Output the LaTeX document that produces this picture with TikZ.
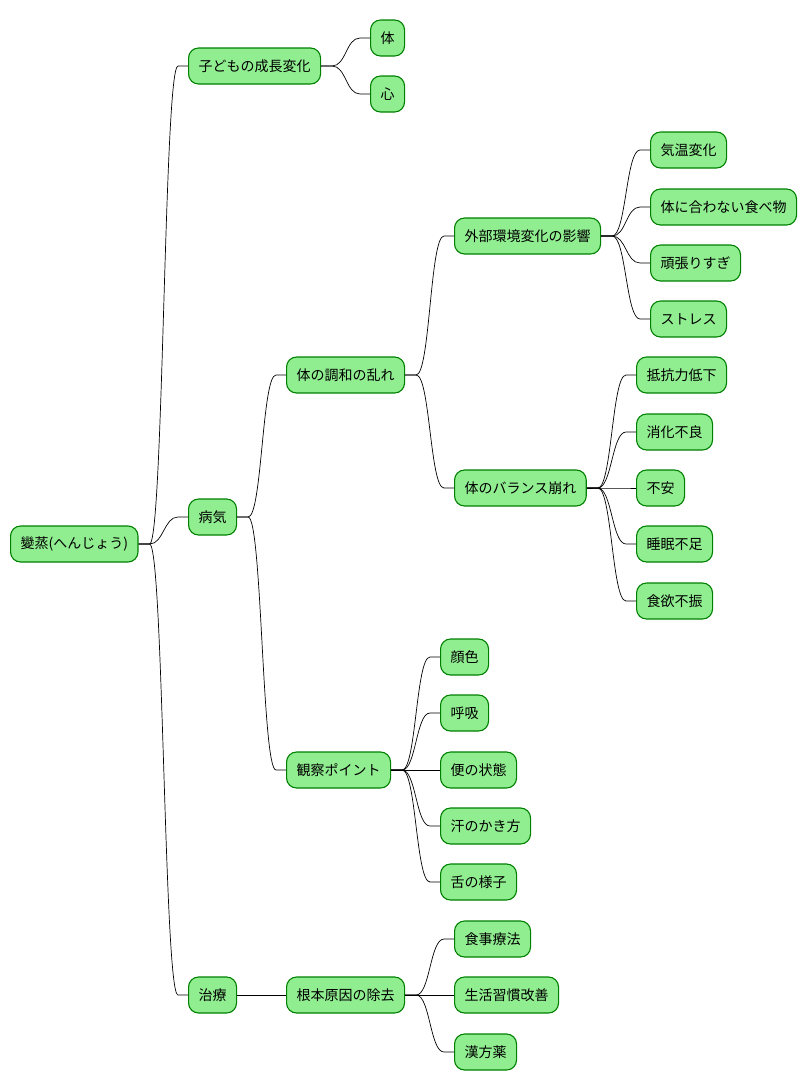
\documentclass[tikz,border=0pt]{standalone}
\usepackage{fontspec}
\setmainfont{Noto Sans CJK JP}
\usetikzlibrary{calc}
\definecolor{leafgreen}{RGB}{144,238,144}
\definecolor{edgegreen}{RGB}{0,128,0}
\tikzset{
  topic/.style={draw=edgegreen, fill=leafgreen, line width=1.1pt, rounded corners=10pt,
    minimum height=36pt, inner xsep=10pt, inner ysep=0pt, anchor=west,
    font=\fontsize{14}{16}\selectfont},
  link/.style={line width=0.7pt, black}
}
\newcommand{\branch}[2]{\draw[link] (#1.east) -- ++(11,0)
  .. controls +(14,0) and +(-14,0) .. ($(#2.west)+(-10,0)$) -- (#2.west);}

\begin{document}
\begin{tikzpicture}[x=1pt, y=-1pt]
    \useasboundingbox (0,0) rectangle (807,1090);
    % root
    \node[topic] (root) at (10,544) {變蒸(へんじょう)};
    % growth
    \node[topic] (kodomo) at (188,66) {子どもの成長変化};
    \node[topic] (karada) at (370,38) {体};
    \node[topic] (kokoro) at (370,94) {心};
    % illness
    \node[topic] (byoki) at (188,517) {病気};
    \node[topic] (chowa) at (286,375) {体の調和の乱れ};
    \node[topic] (gaibu) at (454,236) {外部環境変化の影響};
    \node[topic] (kion) at (650,150) {気温変化};
    \node[topic] (tabemono) at (650,207) {体に合わない食べ物};
    \node[topic] (ganbari) at (650,263) {頑張りすぎ};
    \node[topic] (stress) at (650,319) {ストレス};
    \node[topic] (balance) at (454,488) {体のバランス崩れ};
    \node[topic] (teikou) at (636,375) {抵抗力低下};
    \node[topic] (shouka) at (636,432) {消化不良};
    \node[topic] (fuan) at (636,488) {不安};
    \node[topic] (suimin) at (636,544) {睡眠不足};
    \node[topic] (shokuyoku) at (636,601) {食欲不振};
    \node[topic] (kansatsu) at (286,770) {観察ポイント};
    \node[topic] (kaoiro) at (440,657) {顔色};
    \node[topic] (kokyu) at (440,713) {呼吸};
    \node[topic] (ben) at (440,770) {便の状態};
    \node[topic] (ase) at (440,826) {汗のかき方};
    \node[topic] (shita) at (440,882) {舌の様子};
    % treatment
    \node[topic] (chiryo) at (188,995) {治療};
    \node[topic] (konpon) at (286,995) {根本原因の除去};
    \node[topic] (shokuji) at (454,939) {食事療法};
    \node[topic] (seikatsu) at (454,995) {生活習慣改善};
    \node[topic] (kanpo) at (454,1052) {漢方薬};
    % links
    \branch{root}{kodomo}
    \branch{root}{byoki}
    \branch{root}{chiryo}
    \branch{kodomo}{karada}
    \branch{kodomo}{kokoro}
    \branch{byoki}{chowa}
    \branch{byoki}{kansatsu}
    \branch{chowa}{gaibu}
    \branch{chowa}{balance}
    \foreach \c in {kion,tabemono,ganbari,stress} {\branch{gaibu}{\c}}
    \foreach \c in {teikou,shouka,fuan,suimin,shokuyoku} {\branch{balance}{\c}}
    \foreach \c in {kaoiro,kokyu,ben,ase,shita} {\branch{kansatsu}{\c}}
    \branch{chiryo}{konpon}
    \foreach \c in {shokuji,seikatsu,kanpo} {\branch{konpon}{\c}}
\end{tikzpicture}
\end{document}
